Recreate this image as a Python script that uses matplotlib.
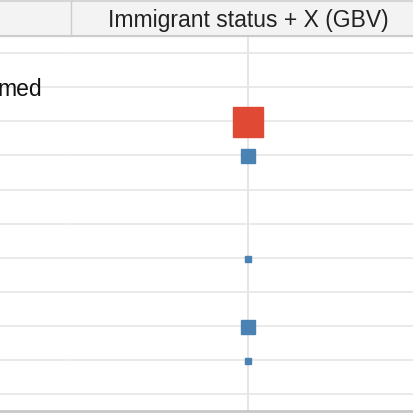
import matplotlib
matplotlib.use("Agg")
import matplotlib.pyplot as plt
from matplotlib.patches import Rectangle

header = "Immigrant status + X (GBV)"
row_label = "med"
# row index (line boundaries), effect estimate, weight
marker_rows = [2, 3, 6, 8, 9]
estimates = [0.0, 0.0, 0.0, 0.0, 0.0]
weights = [30, 14, 6, 14, 6]
colors = ["#e04a35", "#4a82b4", "#4a82b4", "#4a82b4", "#4a82b4"]

fig = plt.figure(figsize=(4.14, 4.14), dpi=100)
ax = fig.add_axes([0, 0, 1, 1])
ax.set_xlim(0, 414); ax.set_ylim(414, 0); ax.axis("off")

y0, dy = 54.3, 34.05
ax.add_patch(Rectangle((0, 2), 414, 35, color="#f3f3f3", zorder=0))
ax.plot([0, 414], [2, 2], color="#d6d6d6", lw=1.5)
ax.plot([0, 414], [37, 37], color="#cccccc", lw=1.5)
ax.plot([71, 71], [2, 37], color="#cccccc", lw=1)
for k in range(11):
    y = y0 + dy * k
    ax.plot([0, 70], [y, y], color="#e6e6e6", lw=1.2)
    ax.plot([72, 414], [y, y], color="#e6e6e6", lw=1.2)
ax.plot([0, 414], [412, 412], color="#c8c8c8", lw=2)

# effect axis: estimate 0 maps to x=248
xc, scale = 248, 100
ax.plot([xc, xc], [37, 411], color="#e3e3e3", lw=1.3, zorder=1)
ax.text(xc, 20, header, ha="center", va="center", fontsize=16.5, family="Liberation Sans", color="#222222")
ax.text(42, 90, row_label, ha="right", va="center", fontsize=16.5, family="Liberation Sans", color="#111111")

for r, e, w, c in zip(marker_rows, estimates, weights, colors):
    y = y0 + dy * r + 1
    x = xc + e * scale
    ax.add_patch(Rectangle((x - w / 2, y - w / 2), w, w, color=c, zorder=3))

fig.savefig("out.png", dpi=100)
